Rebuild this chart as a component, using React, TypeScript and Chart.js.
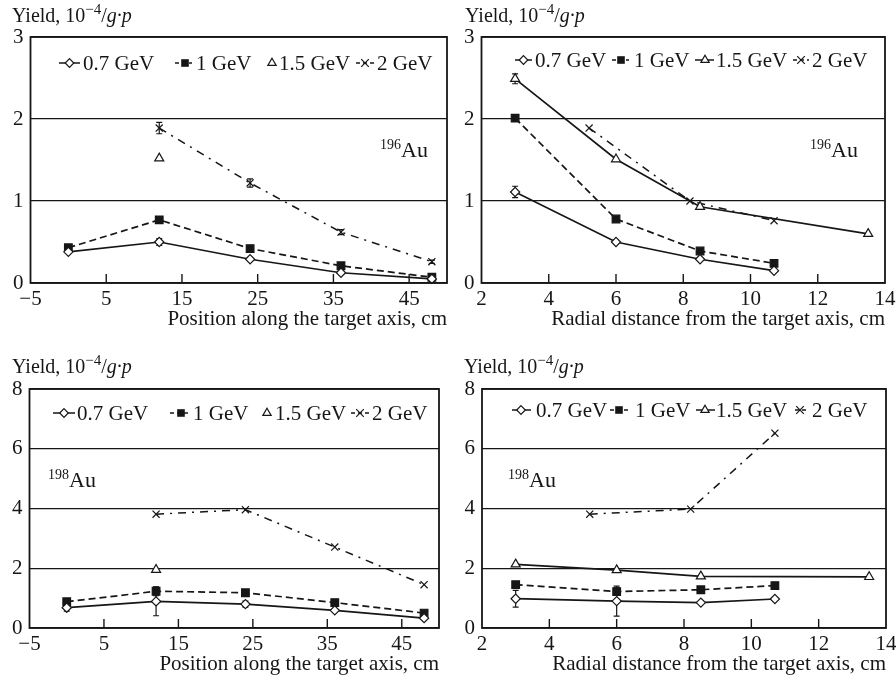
import React, { useEffect, useRef } from 'react';
import { Chart, registerables } from 'chart.js';

Chart.register(...registerables);

const FONT = "'Liberation Serif', 'Times New Roman', 'DejaVu Serif', serif";
const INK = '#161616';

// ---- tick labels ----
const POS_TICKS = [-5, 5, 15, 25, 35, 45];
const RAD_TICKS = [2, 4, 6, 8, 10, 12, 14];
const Y_TICKS_196 = [0, 1, 2, 3];
const Y_TICKS_198 = [0, 2, 4, 6, 8];

const SERIES_LABELS = ['0.7 GeV', '1 GeV', '1.5 GeV', '2 GeV'];
const POS_TITLE = 'Position along the target axis, cm';
const RAD_TITLE = 'Radial distance from the target axis, cm';

// ---- x positions ----
const POS_X = [0, 12, 24, 36, 48];
const POS_X_15 = [12];
const POS_X_2 = [12, 24, 36, 48];
const RAD_X = [3, 6, 8.5, 10.7];
const RAD_X_15 = [3, 6, 8.5, 13.5];
const RAD_X_2 = [5.2, 8.2, 10.7];

// ---- 196Au, position along axis ----
const au196PosY07 = [0.38, 0.5, 0.29, 0.125, 0.05];
const au196PosY1 = [0.43, 0.77, 0.42, 0.21, 0.07];
const au196PosY15 = [1.52];
const au196PosY2 = [1.89, 1.22, 0.62, 0.26];
const au196PosE07 = [0, 0.04, 0, 0, 0];
const au196PosE2 = [0.07, 0.05, 0.03, 0.02];

// ---- 196Au, radial distance ----
const au196RadY07 = [1.11, 0.5, 0.29, 0.15];
const au196RadY1 = [2.01, 0.78, 0.39, 0.24];
const au196RadY15 = [2.49, 1.51, 0.93, 0.6];
const au196RadY2 = [1.89, 1.0, 0.76];
const au196RadE07 = [0.07, 0.02, 0, 0];
const au196RadE15 = [0.06, 0, 0, 0];

// ---- 198Au, position along axis ----
const au198PosY07 = [0.68, 0.89, 0.8, 0.59, 0.33];
const au198PosY1 = [0.88, 1.23, 1.18, 0.85, 0.5];
const au198PosY15 = [1.95];
const au198PosY2 = [3.81, 3.96, 2.71, 1.45];
const au198PosE07 = [0.12, 0.48, 0.1, 0.05, 0];
const au198PosE1 = [0, 0.15, 0, 0, 0];

// ---- 198Au, radial distance ----
const au198RadY07 = [0.98, 0.9, 0.85, 0.97];
const au198RadY1 = [1.45, 1.22, 1.28, 1.42];
const au198RadY15 = [2.13, 1.94, 1.73, 1.71];
const au198RadY2 = [3.81, 3.98, 6.52];
const au198RadE07 = [0.28, 0.5, 0, 0];
const au198RadE1 = [0, 0.12, 0, 0];

const STYLES = [
  { pointStyle: 'rectRot', radius: 4.6, fill: '#ffffff', dash: [] as number[], width: 1.7 },
  { pointStyle: 'rect', radius: 5.4, fill: INK, dash: [7, 4], width: 1.7 },
  { pointStyle: 'triangle', radius: 5.2, fill: '#ffffff', dash: [] as number[], width: 1.7 },
  { pointStyle: 'crossRot', radius: 5, fill: INK, dash: [8, 6, 2, 6], width: 1.5 },
];

function makeDataset(i: number, xs: number[], ys: number[], line: boolean, errs?: number[]) {
  const s = STYLES[i];
  return {
    label: SERIES_LABELS[i],
    data: xs.map((x, k) => ({ x, y: ys[k] })),
    errorBars: errs,
    showLine: line,
    borderColor: INK,
    borderWidth: s.width,
    borderDash: s.dash,
    tension: 0,
    pointStyle: s.pointStyle,
    pointRadius: s.radius,
    pointBackgroundColor: s.fill,
    pointBorderColor: INK,
    pointBorderWidth: 1.2,
    clip: false,
  };
}

function drawMarker(ctx: CanvasRenderingContext2D, style: string, cx: number, cy: number) {
  ctx.save();
  ctx.setLineDash([]);
  ctx.lineWidth = 1.2;
  ctx.strokeStyle = INK;
  ctx.beginPath();
  if (style === 'rectRot') {
    const r = 4.3;
    ctx.moveTo(cx, cy - r);
    ctx.lineTo(cx + r, cy);
    ctx.lineTo(cx, cy + r);
    ctx.lineTo(cx - r, cy);
    ctx.closePath();
    ctx.fillStyle = '#fff';
    ctx.fill();
    ctx.stroke();
  } else if (style === 'rect') {
    const h = 3.8;
    ctx.rect(cx - h, cy - h, 2 * h, 2 * h);
    ctx.fillStyle = INK;
    ctx.fill();
  } else if (style === 'triangle') {
    const r = 4.8;
    ctx.moveTo(cx, cy - r);
    ctx.lineTo(cx + r * 0.866, cy + r / 2);
    ctx.lineTo(cx - r * 0.866, cy + r / 2);
    ctx.closePath();
    ctx.fillStyle = '#fff';
    ctx.fill();
    ctx.stroke();
  } else {
    const r = 3.8;
    ctx.moveTo(cx - r, cy - r);
    ctx.lineTo(cx + r, cy + r);
    ctx.moveTo(cx - r, cy + r);
    ctx.lineTo(cx + r, cy - r);
    ctx.stroke();
  }
  ctx.restore();
}

const decoPlugin = {
  id: 'deco',
  beforeDatasetsDraw(chart: any) {
    const { ctx } = chart;
    const xs = chart.scales.x;
    const ys = chart.scales.y;
    ctx.save();
    ctx.strokeStyle = INK;
    ctx.lineWidth = 1.2;
    ctx.setLineDash([]);
    chart.data.datasets.forEach((ds: any) => {
      if (!ds.errorBars) return;
      ds.data.forEach((pt: any, i: number) => {
        const e = ds.errorBars[i];
        if (!e) return;
        const px = xs.getPixelForValue(pt.x);
        const y1 = ys.getPixelForValue(pt.y - e);
        const y2 = ys.getPixelForValue(pt.y + e);
        ctx.beginPath();
        ctx.moveTo(px, y1);
        ctx.lineTo(px, y2);
        ctx.moveTo(px - 3, y1);
        ctx.lineTo(px + 3, y1);
        ctx.moveTo(px - 3, y2);
        ctx.lineTo(px + 3, y2);
        ctx.stroke();
      });
    });
    ctx.restore();
  },
  afterDraw(chart: any, _args: any, opts: any) {
    const { ctx, chartArea: a } = chart;
    const xs = chart.scales.x;
    ctx.save();
    ctx.setLineDash([]);
    ctx.strokeStyle = INK;
    // frame
    ctx.lineWidth = 1.8;
    ctx.strokeRect(a.left, a.top, a.right - a.left, a.bottom - a.top);
    // inner tick marks on x axis
    ctx.lineWidth = 1.4;
    xs.ticks.forEach((t: any) => {
      const px = xs.getPixelForValue(t.value);
      if (px <= a.left + 2 || px >= a.right - 2) return;
      ctx.beginPath();
      ctx.moveTo(px, a.bottom);
      ctx.lineTo(px, a.bottom - 9);
      ctx.stroke();
    });
    // legend
    ctx.fillStyle = INK;
    ctx.textAlign = 'left';
    chart.data.datasets.forEach((ds: any, i: number) => {
      const it = opts.legend[i];
      const ly = opts.legendY;
      if (it.lx0 !== undefined) {
        ctx.save();
        ctx.lineWidth = 1.5;
        ctx.setLineDash(ds.borderDash && ds.borderDash.length ? [4, 3] : []);
        ctx.beginPath();
        ctx.moveTo(it.lx0, ly);
        ctx.lineTo(it.lx1, ly);
        ctx.stroke();
        ctx.restore();
      }
      drawMarker(ctx, ds.pointStyle, it.mx, ly);
      ctx.fillStyle = INK;
      ctx.font = `21px ${FONT}`;
      ctx.textBaseline = 'middle';
      ctx.fillText(ds.label, it.tx, ly + 1);
    });
    // y label: Yield, 10^-4/g·p
    ctx.textBaseline = 'alphabetic';
    let cx = opts.yLabel.x;
    const base = opts.yLabel.y;
    ctx.font = `20px ${FONT}`;
    ctx.fillText('Yield, 10', cx, base);
    cx += ctx.measureText('Yield, 10').width;
    ctx.font = `15px ${FONT}`;
    ctx.fillText('\u22124', cx, base - 8);
    cx += ctx.measureText('\u22124').width;
    ctx.font = `20px ${FONT}`;
    ctx.fillText('/', cx, base);
    cx += ctx.measureText('/').width;
    ctx.font = `italic 20px ${FONT}`;
    ctx.fillText('g\u00b7p', cx, base);
    // isotope label
    let ix = opts.iso.x;
    ctx.font = `14px ${FONT}`;
    ctx.fillText(opts.iso.mass, ix, opts.iso.y - 8);
    ix += ctx.measureText(opts.iso.mass).width;
    ctx.font = `22px ${FONT}`;
    ctx.fillText('Au', ix, opts.iso.y);
    ctx.restore();
  },
};

const fmtTick = (v: number) => (v < 0 ? '\u2212' + Math.abs(v) : String(v));

type PanelCfg = {
  left: number; top: number; w: number; h: number;
  pad: { left: number; right: number; top: number; bottom: number };
  yW: number; xH: number;
  xMin: number; xMax: number; xTicks: number[]; xTitle: string;
  yMax: number; yTicks: number[];
  datasets: any[];
  deco: any;
};

function buildConfig(p: PanelCfg): any {
  return {
    type: 'line',
    data: { datasets: p.datasets },
    options: {
      responsive: false,
      animation: false,
      devicePixelRatio: 1,
      events: [],
      layout: { padding: p.pad, autoPadding: false },
      plugins: {
        legend: { display: false },
        tooltip: { enabled: false },
        deco: p.deco,
      },
      scales: {
        x: {
          type: 'linear',
          min: p.xMin,
          max: p.xMax,
          afterBuildTicks: (s: any) => { s.ticks = p.xTicks.map((v) => ({ value: v })); },
          afterFit: (s: any) => { s.height = p.xH; s.paddingLeft = 0; s.paddingRight = 0; },
          grid: { display: false, drawTicks: false },
          border: { display: false },
          ticks: {
            autoSkip: false, maxRotation: 0, padding: 4, color: INK,
            font: { family: FONT, size: 21 },
            callback: (v: any) => fmtTick(Number(v)),
          },
          title: {
            display: true, text: p.xTitle, align: 'end', color: INK, padding: 0,
            font: { family: FONT, size: 21 },
          },
        },
        y: {
          type: 'linear',
          min: 0,
          max: p.yMax,
          afterBuildTicks: (s: any) => { s.ticks = p.yTicks.map((v) => ({ value: v })); },
          afterFit: (s: any) => { s.width = p.yW; s.paddingTop = 0; s.paddingBottom = 0; },
          grid: { color: INK, lineWidth: 1.3, drawTicks: false },
          border: { display: false },
          ticks: { padding: 7, color: INK, font: { family: FONT, size: 21 } },
        },
      },
    },
    plugins: [decoPlugin],
  };
}

const PANELS: PanelCfg[] = [
  {
    left: 0, top: 0, w: 448, h: 340,
    pad: { left: 0, right: 1, top: 37, bottom: 8 }, yW: 30.5, xH: 49,
    xMin: -5, xMax: 50, xTicks: POS_TICKS, xTitle: POS_TITLE,
    yMax: 3, yTicks: Y_TICKS_196,
    datasets: [
      makeDataset(0, POS_X, au196PosY07, true, au196PosE07),
      makeDataset(1, POS_X, au196PosY1, true),
      makeDataset(2, POS_X_15, au196PosY15, false),
      makeDataset(3, POS_X_2, au196PosY2, true, au196PosE2),
    ],
    deco: {
      legendY: 63,
      legend: [
        { lx0: 59, lx1: 80, mx: 69.5, tx: 83 },
        { lx0: 175, lx1: 192, mx: 185, tx: 196 },
        { mx: 272, tx: 279 },
        { lx0: 356, lx1: 374, mx: 365, tx: 377 },
      ],
      yLabel: { x: 12, y: 22 },
      iso: { mass: '196', x: 380, y: 157 },
    },
  },
  {
    left: 448, top: 0, w: 448, h: 340,
    pad: { left: 0, right: 11, top: 37, bottom: 8 }, yW: 33.5, xH: 49,
    xMin: 2, xMax: 14, xTicks: RAD_TICKS, xTitle: RAD_TITLE,
    yMax: 3, yTicks: Y_TICKS_196,
    datasets: [
      makeDataset(0, RAD_X, au196RadY07, true, au196RadE07),
      makeDataset(1, RAD_X, au196RadY1, true),
      makeDataset(2, RAD_X_15, au196RadY15, true, au196RadE15),
      makeDataset(3, RAD_X_2, au196RadY2, true),
    ],
    deco: {
      legendY: 60,
      legend: [
        { lx0: 67, lx1: 84, mx: 75.5, tx: 87 },
        { lx0: 164, lx1: 181, mx: 173, tx: 186 },
        { lx0: 247, lx1: 266, mx: 257, tx: 268 },
        { lx0: 345, lx1: 361, mx: 353, tx: 364 },
      ],
      yLabel: { x: 17, y: 22 },
      iso: { mass: '196', x: 362, y: 157 },
    },
  },
  {
    left: 0, top: 340, w: 448, h: 341,
    pad: { left: 0, right: 9, top: 49, bottom: 4 }, yW: 29.5, xH: 49,
    xMin: -5, xMax: 50, xTicks: POS_TICKS, xTitle: POS_TITLE,
    yMax: 8, yTicks: Y_TICKS_198,
    datasets: [
      makeDataset(0, POS_X, au198PosY07, true, au198PosE07),
      makeDataset(1, POS_X, au198PosY1, true, au198PosE1),
      makeDataset(2, POS_X_15, au198PosY15, false),
      makeDataset(3, POS_X_2, au198PosY2, true),
    ],
    deco: {
      legendY: 73,
      legend: [
        { lx0: 53, lx1: 75, mx: 64, tx: 77 },
        { lx0: 170, lx1: 189, mx: 181, tx: 193 },
        { mx: 267, tx: 275 },
        { lx0: 351, lx1: 369, mx: 360, tx: 372 },
      ],
      yLabel: { x: 12, y: 33 },
      iso: { mass: '198', x: 48, y: 147 },
    },
  },
  {
    left: 448, top: 340, w: 448, h: 341,
    pad: { left: 0, right: 10, top: 49, bottom: 4 }, yW: 34, xH: 49,
    xMin: 2, xMax: 14, xTicks: RAD_TICKS, xTitle: RAD_TITLE,
    yMax: 8, yTicks: Y_TICKS_198,
    datasets: [
      makeDataset(0, RAD_X, au198RadY07, true, au198RadE07),
      makeDataset(1, RAD_X, au198RadY1, true, au198RadE1),
      makeDataset(2, RAD_X_15, au198RadY15, true),
      makeDataset(3, RAD_X_2, au198RadY2, true),
    ],
    deco: {
      legendY: 70,
      legend: [
        { lx0: 64, lx1: 83, mx: 73, tx: 88 },
        { lx0: 162, lx1: 180, mx: 171, tx: 187 },
        { lx0: 248, lx1: 267, mx: 257, tx: 268 },
        { lx0: 347, lx1: 360, mx: 352, tx: 364 },
      ],
      yLabel: { x: 16, y: 33 },
      iso: { mass: '198', x: 60, y: 147 },
    },
  },
];

function Panel({ cfg }: { cfg: PanelCfg }) {
  const ref = useRef<HTMLCanvasElement>(null);
  useEffect(() => {
    const chart = new Chart(ref.current as HTMLCanvasElement, buildConfig(cfg));
    return () => chart.destroy();
  }, [cfg]);
  return (
    <div style={{ position: 'absolute', left: cfg.left, top: cfg.top, width: cfg.w, height: cfg.h }}>
      <canvas ref={ref} width={cfg.w} height={cfg.h} style={{ width: cfg.w, height: cfg.h, display: 'block' }} />
    </div>
  );
}

export default function App() {
  return (
    <div style={{ position: 'absolute', left: 0, top: 0, width: 896, height: 681, background: '#fff', overflow: 'hidden' }}>
      {PANELS.map((p, i) => (
        <Panel key={i} cfg={p} />
      ))}
    </div>
  );
}
